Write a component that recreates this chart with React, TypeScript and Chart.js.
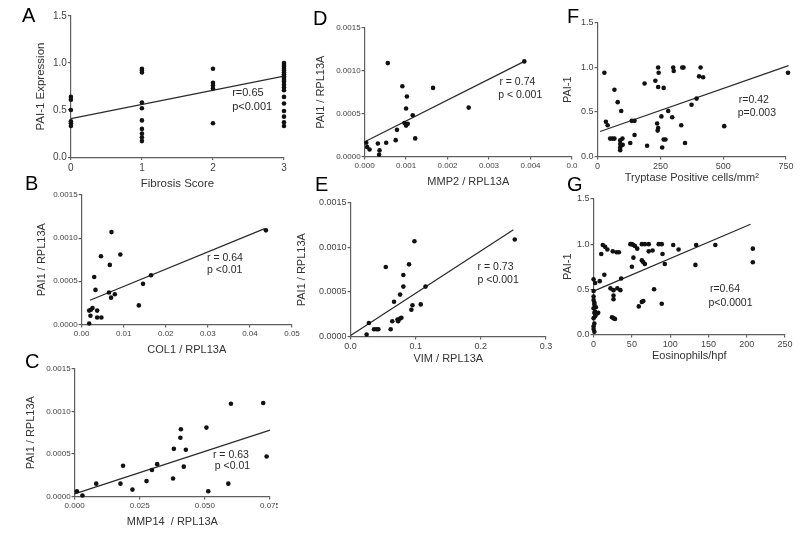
import React, { useEffect, useRef } from 'react';
import { Chart, registerables } from 'chart.js';

Chart.register(...registerables);

const FONT = '"Liberation Sans", Arial, Helvetica, sans-serif';
const AXIS = '#5e5e5e';
const TICK_TXT = '#444';
const TITLE_TXT = '#333';

// ---------- Panel A: PAI-1 expression vs fibrosis score ----------
const aScore = [
  0, 0, 0, 0, 0, 0,
  1, 1, 1, 1, 1, 1, 1, 1, 1, 1,
  2, 2, 2, 2, 2,
  3, 3, 3, 3, 3, 3, 3, 3, 3, 3, 3, 3, 3, 3, 3, 3, 3, 3, 3, 3,
];
const aPai1 = [
  0.64, 0.61, 0.5, 0.38, 0.36, 0.33,
  0.94, 0.92, 0.9, 0.58, 0.52, 0.39, 0.3, 0.25, 0.21, 0.17,
  0.94, 0.79, 0.76, 0.73, 0.36,
  1.0, 0.98, 0.96, 0.94, 0.92, 0.9, 0.88, 0.86, 0.84, 0.82, 0.8, 0.77, 0.74, 0.71, 0.64, 0.57, 0.49, 0.43, 0.37, 0.33,
];
const aFitX = [0, 3];
const aFitY = [0.41, 0.86];
const aXTicks = [0, 1, 2, 3];
const aXLabels = ['0', '1', '2', '3'];
const aYTicks = [0, 0.5, 1.0, 1.5];
const aYLabels = ['0.0', '0.5', '1.0', '1.5'];
const aNotes = ['r=0.65', 'p<0.001'];
const aNoteX = [2.27, 2.27];
const aNoteY = [0.68, 0.53];

// ---------- Panel B: PAI1 vs COL1 ----------
const bCol1 = [0.0071, 0.0092, 0.0046, 0.0067, 0.003, 0.0033, 0.0065, 0.0079, 0.007, 0.0165, 0.0146, 0.0136, 0.0438, 0.0018, 0.0022, 0.0026, 0.0037, 0.0021, 0.0037, 0.0047, 0.0018];
const bPai1 = [0.00107, 0.00081, 0.00079, 0.00069, 0.00055, 0.0004, 0.00037, 0.00035, 0.00031, 0.00057, 0.00047, 0.00022, 0.00109, 0.00016, 0.00017, 0.00019, 0.00016, 0.0001, 0.00008, 0.00008, 0.00001];
const bFitX = [0.002, 0.0435];
const bFitY = [0.00028, 0.00111];
const bXTicks = [0, 0.01, 0.02, 0.03, 0.04, 0.05];
const bXLabels = ['0.00', '0.01', '0.02', '0.03', '0.04', '0.05'];
const qYTicks = [0, 0.0005, 0.001, 0.0015];
const qYLabels = ['0.0000', '0.0005', '0.0010', '0.0015'];
const bNotes = ['r = 0.64', 'p <0.01'];
const bNoteX = [0.0298, 0.0298];
const bNoteY = [0.000767, 0.000628];

// ---------- Panel C: PAI1 vs MMP14 ----------
const cMmp14 = [0.0009, 0.003, 0.0083, 0.0186, 0.0176, 0.0222, 0.0276, 0.0297, 0.0317, 0.0381, 0.0378, 0.0406, 0.0408, 0.0427, 0.0419, 0.0506, 0.0513, 0.059, 0.06, 0.0724, 0.0737];
const cPai1 = [0.00006, 0.00001, 0.00015, 0.00036, 0.00015, 0.00008, 0.00018, 0.00031, 0.00038, 0.00056, 0.00021, 0.00069, 0.00079, 0.00055, 0.00035, 0.00081, 0.00006, 0.00015, 0.00109, 0.0011, 0.00047];
const cFitX = [0, 0.075];
const cFitY = [0.00003, 0.00078];
const cXTicks = [0, 0.025, 0.05, 0.075];
const cXLabels = ['0.000', '0.025', '0.050', '0.075'];
const cNotes = ['r = 0.63', 'p <0.01'];
const cNoteX = [0.0531, 0.0538];
const cNoteY = [0.000484, 0.000354];

// ---------- Panel D: PAI1 vs MMP2 ----------
const dMmp2 = [0.00004, 0.00006, 0.00012, 0.00032, 0.00036, 0.00035, 0.00052, 0.00056, 0.00075, 0.00078, 0.00091, 0.00102, 0.001, 0.00096, 0.001, 0.00104, 0.00116, 0.00122, 0.00165, 0.00251, 0.00385];
const dPai1 = [0.00016, 0.00011, 0.00008, 0.00015, 0.00007, 0.00002, 0.00016, 0.00109, 0.00019, 0.00031, 0.00082, 0.0007, 0.00056, 0.00039, 0.00036, 0.00038, 0.00048, 0.00021, 0.0008, 0.00057, 0.00111];
const dFitX = [0.00004, 0.00385];
const dFitY = [0.00018, 0.00111];
const dXTicks = [0, 0.001, 0.002, 0.003, 0.004, 0.005];
const dXLabels = ['0.000', '0.001', '0.002', '0.003', '0.004', '0.0'];
const dNotes = ['r = 0.74', 'p < 0.001'];
const dNoteX = [0.00325, 0.00322];
const dNoteY = [0.000867, 0.000715];

// ---------- Panel E: PAI1 vs VIM ----------
const eVim = [0.0246, 0.028, 0.036, 0.04, 0.0426, 0.054, 0.0615, 0.064, 0.0667, 0.072, 0.073, 0.076, 0.078, 0.076, 0.081, 0.081, 0.0897, 0.0933, 0.095, 0.1077, 0.115, 0.098, 0.252];
const ePai1 = [0.00002, 0.00015, 0.00008, 0.00008, 0.00008, 0.00078, 0.00008, 0.00017, 0.00039, 0.00019, 0.00017, 0.0002, 0.00021, 0.00047, 0.00069, 0.00056, 0.00081, 0.0003, 0.00035, 0.00036, 0.00056, 0.00107, 0.00109];
const eFitX = [0, 0.25];
const eFitY = [0.00001, 0.0012];
const eXTicks = [0, 0.1, 0.2, 0.3];
const eXLabels = ['0.0', '0.1', '0.2', '0.3'];
const eNotes = ['r = 0.73', 'p <0.001'];
const eNoteX = [0.195, 0.195];
const eNoteY = [0.000778, 0.000632];

// ---------- Panel F: PAI-1 vs tryptase positive cells ----------
const fTryptase = [27, 67, 80, 94, 33, 40, 50, 59, 67, 90, 99, 90, 90, 90, 100, 147, 130, 136, 147, 187, 197, 230, 241, 243, 241, 263, 237, 241, 239, 254, 257, 263, 270, 281, 297, 301, 303, 337, 342, 333, 348, 374, 394, 410, 404, 420, 504, 758];
const fPai1 = [0.94, 0.75, 0.61, 0.51, 0.39, 0.35, 0.2, 0.2, 0.2, 0.18, 0.2, 0.14, 0.1, 0.07, 0.13, 0.24, 0.15, 0.4, 0.4, 0.82, 0.12, 0.85, 1.0, 0.94, 0.78, 0.77, 0.37, 0.32, 0.29, 0.45, 0.1, 0.19, 0.19, 0.51, 0.44, 1.0, 0.96, 1.0, 1.0, 0.35, 0.15, 0.58, 0.65, 1.0, 0.9, 0.89, 0.34, 0.94];
const fFitX = [10, 760];
const fFitY = [0.28, 1.02];
const fXTicks = [0, 250, 500, 750];
const fXLabels = ['0', '250', '500', '750'];
const pYTicks = [0, 0.5, 1.0, 1.5];
const pYLabels = ['0.0', '0.5', '1.0', '1.5'];
const fNotes = ['r=0.42', 'p=0.003'];
const fNoteX = [562, 558];
const fNoteY = [0.632, 0.485];

// ---------- Panel G: PAI-1 vs eosinophils ----------
const gEos = [
  0, 2, 0, 0, 0, 1, 1, 0, 2, 1, 2, 0, 1, 0, 0, 1, 4, 6, 3, 8,
  10, 12, 15, 18, 14, 25, 30, 33, 22, 26, 26, 26, 24, 26, 28, 31, 35, 36,
  48, 50, 52, 54, 52, 50, 57, 59, 63, 65, 63, 67, 72, 63, 65, 67, 72, 77, 79,
  85, 89, 89, 90, 93, 104, 111, 134, 133, 159, 208, 208,
];
const gPai1 = [
  0.61, 0.57, 0.48, 0.42, 0.38, 0.35, 0.33, 0.29, 0.25, 0.24, 0.2, 0.18, 0.12, 0.09, 0.06, 0.03, 0.23, 0.24, 0.3, 0.59,
  0.89, 0.99, 0.97, 0.94, 0.66, 0.92, 0.91, 0.91, 0.51, 0.49, 0.43, 0.39, 0.19, 0.18, 0.17, 0.51, 0.49, 0.62,
  1.0, 1.0, 0.99, 0.98, 0.85, 0.75, 0.95, 0.31, 0.36, 0.37, 1.0, 1.0, 1.0, 0.82, 0.8, 0.78, 0.92, 0.93, 0.5,
  1.0, 1.0, 0.34, 0.89, 0.78, 0.99, 0.94, 0.99, 0.77, 0.99, 0.95, 0.8,
];
const gFitX = [0, 205];
const gFitY = [0.48, 1.22];
const gXTicks = [0, 50, 100, 150, 200, 250];
const gXLabels = ['0', '50', '100', '150', '200', '250'];
const gNotes = ['r=0.64', 'p<0.0001'];
const gNoteX = [152, 150];
const gNoteY = [0.5, 0.35];

type PanelSpec = {
  letter: string;
  letterPos: [number, number];
  area: [number, number, number, number]; // left, top, right, bottom of plot area (page px)
  yTitleX: number;
  xTitleY: number;
  xs: number[];
  ys: number[];
  fitX: number[];
  fitY: number[];
  xTicks: number[];
  xLabels: string[];
  yTicks: number[];
  yLabels: string[];
  xTitle: string;
  yTitle: string;
  tickSize: number;
  titleSize: number;
  notes: string[];
  noteX: number[];
  noteY: number[];
  noteSize: number;
};

const panels: PanelSpec[] = [
  {
    letter: 'A', letterPos: [22, 5], area: [71, 16, 284, 157], yTitleX: 41, xTitleY: 184,
    xs: aScore, ys: aPai1, fitX: aFitX, fitY: aFitY,
    xTicks: aXTicks, xLabels: aXLabels, yTicks: aYTicks, yLabels: aYLabels,
    xTitle: 'Fibrosis Score', yTitle: 'PAI-1 Expression', tickSize: 10, titleSize: 11.5,
    notes: aNotes, noteX: aNoteX, noteY: aNoteY, noteSize: 11,
  },
  {
    letter: 'B', letterPos: [25, 173], area: [82, 195, 292, 324], yTitleX: 42, xTitleY: 350,
    xs: bCol1, ys: bPai1, fitX: bFitX, fitY: bFitY,
    xTicks: bXTicks, xLabels: bXLabels, yTicks: qYTicks, yLabels: qYLabels,
    xTitle: 'COL1 / RPL13A', yTitle: 'PAI1 / RPL13A', tickSize: 8, titleSize: 11,
    notes: bNotes, noteX: bNoteX, noteY: bNoteY, noteSize: 10.5,
  },
  {
    letter: 'C', letterPos: [25, 351], area: [75, 369, 270, 496], yTitleX: 31, xTitleY: 522,
    xs: cMmp14, ys: cPai1, fitX: cFitX, fitY: cFitY,
    xTicks: cXTicks, xLabels: cXLabels, yTicks: qYTicks, yLabels: qYLabels,
    xTitle: 'MMP14  / RPL13A', yTitle: 'PAI1 / RPL13A', tickSize: 8, titleSize: 11,
    notes: cNotes, noteX: cNoteX, noteY: cNoteY, noteSize: 10.5,
  },
  {
    letter: 'D', letterPos: [313, 8], area: [365, 28, 572, 156], yTitleX: 321, xTitleY: 182,
    xs: dMmp2, ys: dPai1, fitX: dFitX, fitY: dFitY,
    xTicks: dXTicks, xLabels: dXLabels, yTicks: qYTicks, yLabels: qYLabels,
    xTitle: 'MMP2 / RPL13A', yTitle: 'PAI1 / RPL13A', tickSize: 8, titleSize: 11,
    notes: dNotes, noteX: dNoteX, noteY: dNoteY, noteSize: 10.5,
  },
  {
    letter: 'E', letterPos: [315, 174], area: [351, 203, 546, 336], yTitleX: 302, xTitleY: 359,
    xs: eVim, ys: ePai1, fitX: eFitX, fitY: eFitY,
    xTicks: eXTicks, xLabels: eXLabels, yTicks: qYTicks, yLabels: qYLabels,
    xTitle: 'VIM / RPL13A', yTitle: 'PAI1 / RPL13A', tickSize: 9, titleSize: 11,
    notes: eNotes, noteX: eNoteX, noteY: eNoteY, noteSize: 10.5,
  },
  {
    letter: 'F', letterPos: [567, 6], area: [598, 23, 786, 156], yTitleX: 568, xTitleY: 178,
    xs: fTryptase, ys: fPai1, fitX: fFitX, fitY: fFitY,
    xTicks: fXTicks, xLabels: fXLabels, yTicks: pYTicks, yLabels: pYLabels,
    xTitle: 'Tryptase Positive cells/mm²', yTitle: 'PAI-1', tickSize: 9, titleSize: 11,
    notes: fNotes, noteX: fNoteX, noteY: fNoteY, noteSize: 10.5,
  },
  {
    letter: 'G', letterPos: [567, 174], area: [594, 199, 785, 334], yTitleX: 568, xTitleY: 356,
    xs: gEos, ys: gPai1, fitX: gFitX, fitY: gFitY,
    xTicks: gXTicks, xLabels: gXLabels, yTicks: pYTicks, yLabels: pYLabels,
    xTitle: 'Eosinophils/hpf', yTitle: 'PAI-1', tickSize: 9, titleSize: 11,
    notes: gNotes, noteX: gNoteX, noteY: gNoteY, noteSize: 10.5,
  },
];

const MARGIN = 8;

function Panel({ spec }: { spec: PanelSpec }) {
  const ref = useRef<HTMLCanvasElement | null>(null);
  const [L, T, R, B] = spec.area;
  const lh = spec.titleSize * 1.2;
  const W = L - spec.yTitleX + lh / 2;
  const H = spec.xTitleY - B + lh / 2;
  const cLeft = L - W - MARGIN;
  const cTop = T - MARGIN;
  const cWidth = R - L + W + 2 * MARGIN;
  const cHeight = B - T + H + 2 * MARGIN;

  useEffect(() => {
    if (!ref.current) return;
    const notesPlugin = {
      id: 'notes' + spec.letter,
      afterDatasetsDraw(chart: any) {
        const { ctx, scales } = chart;
        ctx.save();
        ctx.font = `${spec.noteSize}px ${FONT}`;
        ctx.fillStyle = '#2a2a2a';
        ctx.textAlign = 'left';
        ctx.textBaseline = 'middle';
        spec.notes.forEach((t, i) => {
          ctx.fillText(t, scales.x.getPixelForValue(spec.noteX[i]), scales.y.getPixelForValue(spec.noteY[i]));
        });
        ctx.restore();
      },
    };
    const tickFont = { family: FONT, size: spec.tickSize };
    const titleFont = { family: FONT, size: spec.titleSize };
    const chart = new Chart(ref.current, {
      type: 'scatter',
      data: {
        datasets: [
          {
            data: spec.xs.map((x, i) => ({ x, y: spec.ys[i] })),
            pointRadius: 2.3,
            pointBackgroundColor: '#111',
            pointBorderWidth: 0,
            showLine: false,
            clip: false,
          } as any,
          {
            data: spec.fitX.map((x, i) => ({ x, y: spec.fitY[i] })),
            showLine: true,
            borderColor: '#2b2b2b',
            borderWidth: 1.3,
            pointRadius: 0,
            clip: false,
          } as any,
        ],
      },
      options: {
        responsive: false,
        animation: false,
        events: [],
        layout: { padding: { left: MARGIN, right: MARGIN, top: MARGIN, bottom: MARGIN } },
        plugins: { legend: { display: false }, tooltip: { enabled: false } },
        scales: {
          x: {
            type: 'linear',
            min: spec.xTicks[0],
            max: spec.xTicks[spec.xTicks.length - 1],
            afterBuildTicks: (s: any) => {
              s.ticks = spec.xTicks.map((v) => ({ value: v }));
            },
            afterFit: (s: any) => {
              s.height = H;
              s.paddingLeft = 0;
              s.paddingRight = 0;
              s.paddingTop = 0;
              s.paddingBottom = 0;
            },
            ticks: {
              callback: (_v: any, i: number) => spec.xLabels[i],
              font: tickFont,
              color: TICK_TXT,
              padding: 2,
              autoSkip: false,
              maxRotation: 0,
            },
            grid: { drawOnChartArea: false, drawTicks: true, tickLength: 3, color: AXIS, lineWidth: 1.2 },
            border: { display: true, color: AXIS, width: 1.2 },
            title: { display: true, text: spec.xTitle, font: titleFont, color: TITLE_TXT, padding: 0 },
          },
          y: {
            type: 'linear',
            min: spec.yTicks[0],
            max: spec.yTicks[spec.yTicks.length - 1],
            afterBuildTicks: (s: any) => {
              s.ticks = spec.yTicks.map((v) => ({ value: v }));
            },
            afterFit: (s: any) => {
              s.width = W;
              s.paddingLeft = 0;
              s.paddingRight = 0;
              s.paddingTop = 0;
              s.paddingBottom = 0;
            },
            ticks: {
              callback: (_v: any, i: number) => spec.yLabels[i],
              font: tickFont,
              color: TICK_TXT,
              padding: 1,
              autoSkip: false,
            },
            grid: { drawOnChartArea: false, drawTicks: true, tickLength: 3, color: AXIS, lineWidth: 1.2 },
            border: { display: true, color: AXIS, width: 1.2 },
            title: { display: true, text: spec.yTitle, font: titleFont, color: TITLE_TXT, padding: 0 },
          },
        },
      } as any,
      plugins: [notesPlugin],
    });
    return () => chart.destroy();
  }, []);

  return (
    <>
      <canvas
        ref={ref}
        width={Math.round(cWidth)}
        height={Math.round(cHeight)}
        style={{ position: 'absolute', left: Math.round(cLeft), top: Math.round(cTop) }}
      />
      <div
        style={{
          position: 'absolute',
          left: spec.letterPos[0],
          top: spec.letterPos[1],
          fontFamily: FONT,
          fontSize: 20,
          lineHeight: '20px',
          color: '#000',
        }}
      >
        {spec.letter}
      </div>
    </>
  );
}

export default function App() {
  return (
    <div
      style={{
        position: 'absolute',
        left: 0,
        top: 0,
        width: 800,
        height: 533,
        background: '#fff',
        overflow: 'hidden',
      }}
    >
      {panels.map((p) => (
        <Panel key={p.letter} spec={p} />
      ))}
    </div>
  );
}
